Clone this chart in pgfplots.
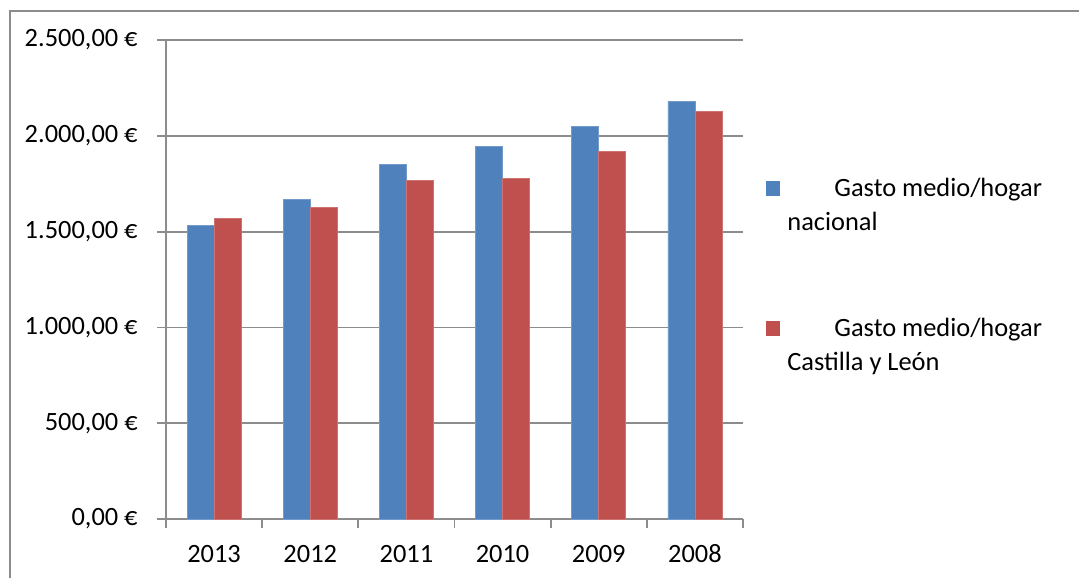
\documentclass[border=0pt]{standalone}
\usepackage{pgfplots}
\pgfplotsset{compat=1.18}
\usepackage{fontspec}
\setmainfont{Carlito}
\definecolor{cblue}{HTML}{4F81BD}
\definecolor{cred}{HTML}{C0504D}
\definecolor{cgrid}{HTML}{8C8C8C}
\begin{document}
\begin{tikzpicture}
\path[use as bounding box] (0pt,0pt) rectangle (539.5pt,289pt);
\draw[cgrid, line width=1pt] (5pt,0pt) -- (5pt,283.5pt) -- (539.5pt,283.5pt);
\begin{axis}[
  at={(83pt,29.5pt)}, anchor=south west,
  scale only axis, width=288.5pt, height=239.5pt,
  xmin=-0.5, xmax=5.5, ymin=0, ymax=2500,
  axis x line*=bottom, axis y line*=left,
  axis line style={cgrid, line width=0.9pt, -},
  ybar=0pt, bar width=13.5pt,
  xtick={0,...,5},
  xticklabels={2013,2012,2011,2010,2009,2008},
  minor xtick={-0.5,0.5,...,5.5},
  major x tick style={draw=none},
  minor x tick style={cgrid, line width=0.9pt},
  minor tick length=4.5pt,
  ytick={0,500,...,2500},
  yticklabels={{0,00 €},{500,00 €},{1.000,00 €},{1.500,00 €},{2.000,00 €},{2.500,00 €}},
  major y tick style={cgrid, line width=0.9pt},
  major tick length=4.5pt,
  tick align=outside,
  ymajorgrids, grid style={cgrid, line width=0.9pt},
  tick label style={font=\fontsize{13.2}{15}\selectfont},
  yticklabel style={anchor=east, inner sep=0pt, xshift=-9.5pt},
  xticklabel style={anchor=base, inner sep=0pt, yshift=-17pt},
  legend style={draw=none, fill=none, inner sep=0pt,
    at={(1.0399,0.724)}, anchor=north west,
    font=\fontsize{13.2}{17}\selectfont,
    nodes={inner sep=0pt, anchor=base west},
    row sep=56.5pt, column sep=3.5pt},
  legend cell align=left,
  legend image code/.code={\draw[#1,draw=none] (0pt,0pt) rectangle (7pt,7.5pt);},
]
\addplot[fill=cblue, draw=cblue!80!white] coordinates {(0,1534) (1,1669) (2,1852) (3,1946) (4,2049) (5,2181)};
\addplot[fill=cred, draw=cred!80!white] coordinates {(0,1569) (1,1625) (2,1768) (3,1779) (4,1918) (5,2127)};
\legend{{\begin{tabular}[t]{@{}l@{}}\hspace{23.5pt}Gasto medio/hogar\\nacional\end{tabular}},
        {\begin{tabular}[t]{@{}l@{}}\hspace{23.5pt}Gasto medio/hogar\\Castilla y León\end{tabular}}}
\end{axis}
\end{tikzpicture}
\end{document}
